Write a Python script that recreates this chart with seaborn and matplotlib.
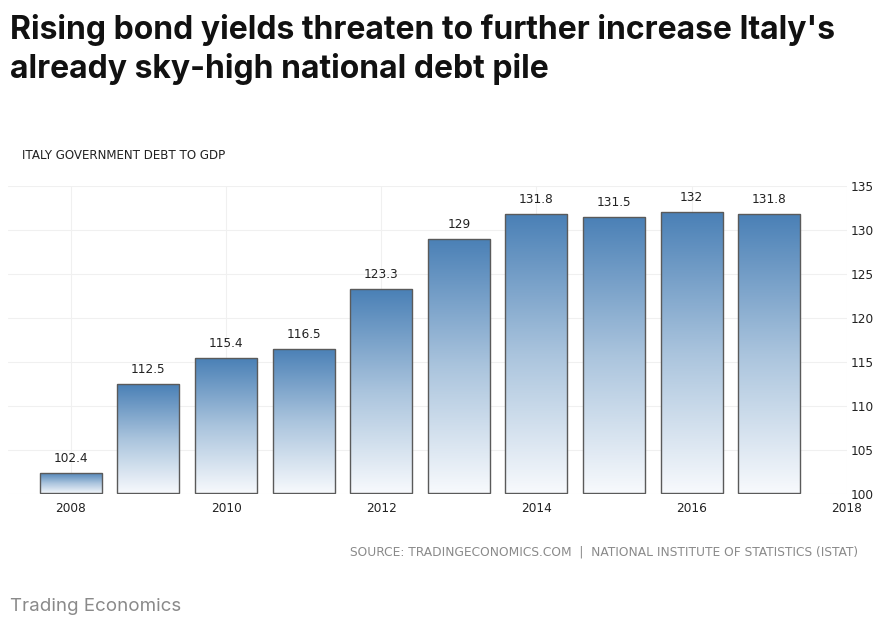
import numpy as np
import pandas as pd
import matplotlib
matplotlib.use("Agg")
import matplotlib.pyplot as plt
from matplotlib.colors import LinearSegmentedColormap
import seaborn as sns

years = [2008, 2009, 2010, 2011, 2012, 2013, 2014, 2015, 2016, 2017]
debt_to_gdp = [102.4, 112.5, 115.4, 116.5, 123.3, 129.0, 131.8, 131.5, 132.0, 131.8]
value_labels = ["102.4", "112.5", "115.4", "116.5", "123.3", "129", "131.8", "131.5", "132", "131.8"]
x_ticks = [2008, 2010, 2012, 2014, 2016, 2018]
y_ticks = [100, 105, 110, 115, 120, 125, 130, 135]
y_base = 100

title = "Rising bond yields threaten to further increase Italy's\nalready sky-high national debt pile"
chart_title = "ITALY GOVERNMENT DEBT TO GDP"
source = "SOURCE: TRADINGECONOMICS.COM  |  NATIONAL INSTITUTE OF STATISTICS (ISTAT)"
footer = "Trading Economics"

sns.set_theme(style="white")
plt.rcParams['font.family'] = ['DejaVu Sans']

df = pd.DataFrame({"year": years, "value": debt_to_gdp})

fig = plt.figure(figsize=(8.84, 6.26), dpi=100)
ax = fig.add_axes([0.009, 0.211, 0.949, 0.492])

sns.barplot(data=df, x="year", y="value", native_scale=True, width=0.8,
            color="#4a82b8", edgecolor="#5a5a5a", linewidth=1.0, ax=ax,
            errorbar=None)

cmap = LinearSegmentedColormap.from_list("g", ["#f8fafd", "#aac4dd", "#4a80b6"])
grad = np.linspace(0, 1, 256).reshape(-1, 1)
for p in list(ax.patches):
    x0, w = p.get_x(), p.get_width()
    top = p.get_y() + p.get_height()
    # rest the bar on the axis baseline so its bottom edge is drawn
    p.set_y(y_base + 0.12)
    p.set_height(top - y_base - 0.12)
    im = ax.imshow(grad, extent=[x0, x0 + w, y_base, top], origin="lower",
                   aspect="auto", cmap=cmap, zorder=2)
    im.set_clip_path(p)
    p.set_facecolor("none")
    p.set_zorder(3)

for yr, v, lab in zip(years, debt_to_gdp, value_labels):
    ax.text(yr, v + 0.9, lab, ha="center", va="bottom", fontsize=8.7, color="#222222")

ax.set_xlim(2007.19, 2018)
ax.set_ylim(100, 135)
ax.set_xticks(x_ticks)
ax.set_xticklabels([str(t) for t in x_ticks])
ax.set_yticks(y_ticks)
ax.yaxis.tick_right()
ax.tick_params(axis="both", labelsize=8.7, colors="#222222", length=0, pad=6)
ax.tick_params(axis="y", pad=3)
ax.set_xlabel("")
ax.set_ylabel("")
ax.grid(True, color="#f0f0f0", linewidth=0.8, zorder=0)
ax.set_axisbelow(True)
for s in ax.spines.values():
    s.set_visible(False)

fig.text(0.011, 0.978, title, ha="left", va="top", fontsize=23, fontweight="bold",
         family=["Inter", "DejaVu Sans"], color="#111111", linespacing=1.3)
fig.text(0.025, 0.752, chart_title, ha="left", va="center", fontsize=8.6,
         color="#222222")
fig.text(0.971, 0.119, source, ha="right", va="center", fontsize=8.8, color="#8a8a8a")
fig.text(0.011, 0.031, footer, ha="left", va="center", fontsize=13.5, color="#8a8a8a",
         family=["Inter", "DejaVu Sans"])

fig.savefig("out.png", dpi=100)
